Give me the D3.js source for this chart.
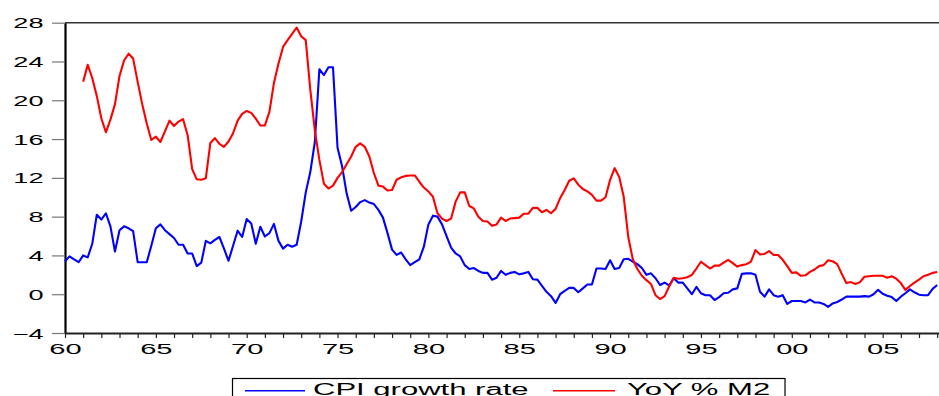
<!DOCTYPE html>
<html>
<head>
<meta charset="utf-8">
<script src="https://cdn.jsdelivr.net/npm/d3@7"></script>
<style>
  html, body { margin: 0; padding: 0; background: #fff; }
  svg { display: block; }
  text { font-family: "Liberation Sans", Arial, sans-serif; fill: #000; }
</style>
</head>
<body>
<svg id="chart" width="939" height="396"></svg>
<script>
// Quarterly series, first observation 1960 Q1
const startYear = 1960;
const periodsPerYear = 4;

// CPI growth rate, % (1960 Q1 .. 2008 Q1)
const cpiGrowth = [
  3.4, 3.9, 3.6, 3.3,      4.0, 3.8, 5.2, 8.2,      7.7, 8.35, 7.0, 4.4,     6.6, 7.0, 6.8, 6.5,
  3.3, 3.3, 3.3, 5.0,      6.8, 7.2, 6.6, 6.2,      5.8, 5.1, 5.1, 4.2,      4.2, 2.9, 3.25, 5.5,
  5.25, 5.6, 5.9, 4.7,     3.45, 5.0, 6.55, 5.9,    7.75, 7.3, 5.2, 6.95,    5.95, 6.3, 7.25, 5.5,
  4.7, 5.1, 4.9, 5.1,      7.5, 10.5, 12.6, 15.7,   23.2, 22.6, 23.4, 23.4,  15.1, 13.2, 10.4, 8.6,
  9.0, 9.5, 9.7, 9.45,     9.3, 8.7, 7.9, 6.3,      4.6, 4.05, 4.3, 3.6,     3.0, 3.3, 3.6, 4.9,
  7.2, 8.1, 8.0, 7.2,      6.0, 4.8, 4.2, 3.9,      3.0, 2.6, 2.7, 2.4,      2.2, 2.2, 1.5, 1.7,
  2.4, 2.0, 2.2, 2.3,      2.05, 2.15, 2.3, 1.55,   1.5, 0.85, 0.25, -0.2,   -0.9, 0.0, 0.35, 0.65,
  0.65, 0.2, 0.6, 1.0,     1.0, 2.65, 2.65, 2.6,    3.5, 2.6, 2.7, 3.6,      3.65, 3.35, 3.1, 2.7,
  2.0, 2.15, 1.65, 0.95,   1.2, 0.9, 1.65, 1.2,     1.2, 0.6, 0.0, 0.75,     0.1, -0.1, -0.1, -0.6,
  -0.3, 0.1, 0.15, 0.5,    0.6, 2.1, 2.15, 2.15,    2.0, 0.25, -0.25, 0.5,   -0.1, -0.25, -0.1, -1.0,
  -0.7, -0.7, -0.7, -0.85, -0.55, -0.85, -0.85, -1.0, -1.3, -0.95, -0.8, -0.55, -0.25, -0.25, -0.25, -0.25,
  -0.2, -0.25, 0.0, 0.45,  0.05, -0.15, -0.3, -0.7, -0.25, 0.1, 0.5, 0.2,   -0.05, -0.1, -0.1, 0.55,
  0.95
];

// Year-on-year growth of M2, % (starts 1961 Q1)
const m2YoY = [
  null, null, null, null,  21.9, 23.65, 22.3, 20.45, 18.15, 16.7, 18.0, 19.6, 22.5, 24.1, 24.8, 24.3,
  21.9, 19.6, 17.6, 15.9,  16.25, 15.7, 16.8, 17.9, 17.35, 17.8, 18.05, 16.4, 12.9, 11.85, 11.8, 11.95,
  15.6, 16.1, 15.5, 15.2,  15.75, 16.6, 17.9, 18.6, 18.9, 18.7, 18.1, 17.4,  17.4, 18.8, 21.8, 23.8,
  25.5, 26.2, 26.85, 27.5, 26.6, 26.2, 21.1, 16.9, 13.85, 11.4, 10.9, 11.2, 12.0, 12.6, 13.4, 14.2,
  15.2, 15.55, 15.2, 14.2, 12.5, 11.2, 11.1, 10.7, 10.75, 11.8, 12.05, 12.2, 12.25, 12.25, 11.6, 11.0,
  10.6, 10.05, 8.35, 7.8,  7.55, 7.8, 9.55, 10.5,  10.5, 9.1, 8.85, 8.0,    7.55, 7.5, 7.05, 7.2,
  7.9, 7.55, 7.8, 7.85,    7.9, 8.3, 8.3, 8.9,      8.9, 8.45, 8.7, 8.35,    8.8, 9.9, 10.75, 11.7,
  11.95, 11.3, 10.85, 10.6, 10.25, 9.65, 9.65, 10.0, 11.8, 13.0, 12.1, 10.05, 5.9, 3.6, 2.6, 1.9,
  1.45, 1.05, -0.1, -0.5,  -0.2, 0.8, 1.7, 1.6,     1.65, 1.75, 2.0, 2.65,   3.35, 3.0, 2.65, 2.95,
  2.95, 3.25, 3.55, 3.2,   2.85, 3.0, 3.1, 3.35,    4.55, 4.1, 4.15, 4.45,   4.05, 4.05, 3.55, 2.9,
  2.2, 2.25, 1.9, 1.95,    2.3, 2.55, 2.9, 3.0,     3.5, 3.4, 3.1, 2.1,      1.15, 1.25, 1.05, 1.25,
  1.8, 1.85, 1.9, 1.9,     1.9, 1.7, 1.85, 1.6,     1.15, 0.45, 0.85, 1.2,   1.5, 1.85, 2.0, 2.2,
  2.3
];

const yTickValues = [-4, 0, 4, 8, 12, 16, 20, 24, 28];
const xLabelYears = [1960, 1965, 1970, 1975, 1980, 1985, 1990, 1995, 2000, 2005];
const xTickLabels = ["60", "65", "70", "75", "80", "85", "90", "95", "00", "05"];
const seriesNames = ["CPI growth rate", "YoY % M2"];
const seriesColors = ["#0000ff", "#ff0000"];

// ---- layout ----
const W = 939, H = 396;
const plot = { left: 65, top: 22.7, bottom: 333 };
const pxPerYear = 18.17;
const endYear = 2008.25;
const stretch = 1.94;   // wide lettering

const svg = d3.select("#chart");

const x = d3.scaleLinear()
  .domain([startYear, endYear])
  .range([plot.left, plot.left + (endYear - startYear) * pxPerYear]);
const y = d3.scaleLinear().domain([-4, 28]).range([plot.bottom, plot.top]);

const timeOf = i => startYear + i / periodsPerYear;

// top frame line
svg.append("line")
  .attr("x1", plot.left).attr("x2", W)
  .attr("y1", plot.top).attr("y2", plot.top)
  .attr("stroke", "#333").attr("stroke-width", 1.6);

// y axis
const yAxis = svg.append("g")
  .attr("transform", `translate(${plot.left},0)`)
  .call(d3.axisLeft(y).tickValues(yTickValues).tickSize(13).tickSizeOuter(0).tickFormat(d3.format("d")));
yAxis.select(".domain").attr("stroke", "#000").attr("stroke-width", 2.2);
yAxis.selectAll(".tick line").attr("stroke", "#777").attr("stroke-width", 1.2);
yAxis.selectAll(".tick text")
  .attr("x", null).attr("dy", "0.36em")
  .attr("transform", `translate(-21.5,0) scale(${stretch},1)`)
  .style("font-size", "14px");

// x axis: a tick every year, labels every five years
const allYears = d3.range(startYear, 2009);
const xAxis = svg.append("g")
  .attr("transform", `translate(0,${plot.bottom})`)
  .call(d3.axisBottom(x)
    .tickValues(allYears)
    .tickSize(5)
    .tickSizeOuter(0)
    .tickPadding(5.5)
    .tickFormat(d => {
      const k = xLabelYears.indexOf(d);
      return k >= 0 ? xTickLabels[k] : "";
    }));
xAxis.select(".domain").attr("stroke", "#222").attr("stroke-width", 2);
xAxis.selectAll(".tick line").attr("stroke", "#222").attr("stroke-width", 1.2);
xAxis.selectAll(".tick text")
  .attr("transform", `scale(${stretch},1)`)
  .style("font-size", "15px");

// series lines
const line = d3.line()
  .defined(d => d != null)
  .x((d, i) => x(timeOf(i)))
  .y(d => y(d));

[cpiGrowth, m2YoY].forEach((series, k) => {
  svg.append("path")
    .datum(series)
    .attr("fill", "none")
    .attr("stroke", seriesColors[k])
    .attr("stroke-width", 2.1)
    .attr("stroke-linejoin", "round")
    .attr("d", line);
});

// legend
const legend = svg.append("g");
legend.append("rect")
  .attr("x", 232.5).attr("y", 378.5)
  .attr("width", 552.5).attr("height", 40)
  .attr("fill", "#fff").attr("stroke", "#000").attr("stroke-width", 1.2);

const legendItems = [
  { x0: 245, x1: 305, tx: 313 },
  { x0: 553, x1: 615, tx: 627 }
];
legendItems.forEach((it, k) => {
  legend.append("line")
    .attr("x1", it.x0).attr("x2", it.x1)
    .attr("y1", 390.7).attr("y2", 390.7)
    .attr("stroke", seriesColors[k]).attr("stroke-width", 1.6);
  legend.append("text")
    .attr("transform", `translate(${it.tx},395) scale(${stretch},1)`)
    .style("font-size", "16px")
    .text(seriesNames[k]);
});
</script>
</body>
</html>
